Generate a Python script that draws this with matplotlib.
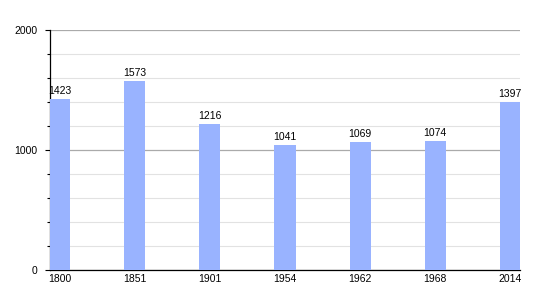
import matplotlib
matplotlib.use("Agg")
import matplotlib.pyplot as plt
from matplotlib.ticker import MultipleLocator

years = ["1800", "1851", "1901", "1954", "1962", "1968", "2014"]
population = [1423, 1573, 1216, 1041, 1069, 1074, 1397]

plt.rcParams['font.family'] = ['Liberation Sans', 'DejaVu Sans']

fig = plt.figure(figsize=(5.5, 3), dpi=100)
ax = fig.add_axes([50/550, 30/300, 470/550, 240/300])

x = list(range(len(years)))
bars = ax.bar(x, population, width=0.28, color="#99b3ff", zorder=3)
for xi, v in zip(x, population):
    ax.text(xi, v + 25, str(v), ha="center", va="bottom", fontsize=7.5, color="black", zorder=4)

ax.set_xlim(-0.133, 6.133)
ax.set_ylim(0, 2000)
ax.yaxis.set_major_locator(MultipleLocator(1000))
ax.yaxis.set_minor_locator(MultipleLocator(200))
ax.grid(which="major", axis="y", color="#aaaaaa", linewidth=0.9, zorder=1)
ax.grid(which="minor", axis="y", color="#e2e2e2", linewidth=0.8, zorder=1)
ax.set_xticks(x)
ax.set_xticklabels(years)
ax.tick_params(axis="x", length=0, labelsize=7.5, pad=3)
ax.tick_params(axis="y", which="major", length=3.6, width=0.8, labelsize=7.5, pad=5.5, direction="out")
ax.tick_params(axis="y", which="minor", length=2.2, width=0.8, direction="out")
for s in ["top", "right"]:
    ax.spines[s].set_visible(False)
ax.spines["left"].set_color("black")
ax.spines["bottom"].set_color("black")
ax.spines["left"].set_linewidth(0.9)
ax.spines["bottom"].set_linewidth(0.9)

fig.savefig("out.png", dpi=100)
